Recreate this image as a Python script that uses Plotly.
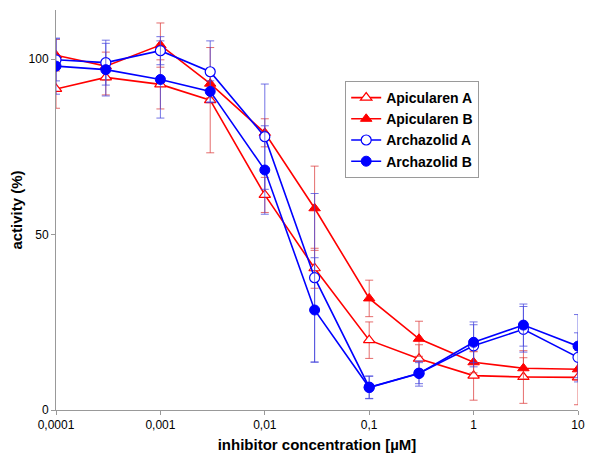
import plotly.graph_objects as go

# inhibitor concentration [uM]
conc = [0.0001, 0.0003, 0.001, 0.003, 0.01, 0.03, 0.1, 0.3, 1, 3, 10]

apic_a = [91.5, 94.8, 92.8, 88.3, 61.3, 40.4, 19.9, 14.6, 9.8, 9.4, 9.3]
apic_a_err = [5.5, 5.0, 7.0, 15.0, 5.0, 5.7, 5.2, 4.0, 7.0, 7.5, 7.8]

apic_b = [101.1, 98.0, 104.0, 93.0, 79.0, 57.5, 31.8, 20.3, 13.6, 11.9, 11.6]
apic_b_err = [4.5, 4.0, 6.3, 4.0, 4.0, 12.0, 5.2, 5.0, 3.0, 3.0, 3.0]

arch_a = [99.8, 99.0, 102.4, 96.4, 77.9, 37.7, 6.5, 10.5, 18.3, 23.0, 15.0]
arch_a_err = [6.0, 6.4, 4.0, 8.8, 15.0, 24.0, 3.2, 3.0, 6.0, 6.5, 7.0]

arch_b = [98.0, 97.0, 94.2, 90.8, 68.4, 28.5, 6.4, 10.4, 19.3, 24.2, 18.2]
arch_b_err = [8.0, 7.5, 11.0, 3.0, 12.6, 14.9, 3.2, 3.6, 5.8, 6.0, 9.0]

x_ticks = [0.0001, 0.001, 0.01, 0.1, 1, 10]
x_labels = ["0,0001", "0,001", "0,01", "0,1", "1", "10"]

RED = "#FF0000"
BLUE = "#0000FF"

# name, values, errors, colour, marker, filled?, error bar colour
series = [
    ("Apicularen A", apic_a, apic_a_err, RED, "triangle-up", False, "rgba(220,60,60,0.75)"),
    ("Apicularen B", apic_b, apic_b_err, RED, "triangle-up", True, "rgba(220,60,60,0.75)"),
    ("Archazolid A", arch_a, arch_a_err, BLUE, "circle", False, "rgba(70,70,220,0.75)"),
    ("Archazolid B", arch_b, arch_b_err, BLUE, "circle", True, "rgba(70,70,220,0.75)"),
]

fig = go.Figure()
for name, vals, errs, col, sym, filled, ecol in series:
    fig.add_trace(go.Scatter(
        x=conc, y=vals, name="<b>" + name + "</b>", mode="lines+markers",
        line=dict(color=col, width=1.6),
        marker=dict(symbol=sym, size=10, color=col if filled else "white",
                    line=dict(color=col, width=1 if filled else 1.2)),
        error_y=dict(type="data", array=errs, visible=True, color=ecol,
                     thickness=1, width=4),
    ))

# page body has an 8px margin, so the figure is a bit smaller than the window
fig.update_layout(
    width=592, height=462,
    margin=dict(l=48, r=22, t=2, b=60),
    paper_bgcolor="white", plot_bgcolor="white",
    font=dict(family="Liberation Sans, Arial, sans-serif", size=12, color="black"),
    showlegend=True,
    legend=dict(x=0.554, y=0.8225, xanchor="left", yanchor="top",
                bordercolor="#9a9a9a", borderwidth=1, bgcolor="white",
                font=dict(size=14, family="Liberation Sans, Arial, sans-serif"),
                tracegroupgap=0, itemwidth=30),
)
fig.update_xaxes(
    type="log", range=[-4, 1], tickvals=x_ticks, ticktext=x_labels,
    showgrid=False, zeroline=False, showline=True, linecolor="#999999",
    ticks="outside", ticklen=4, tickcolor="#999999", automargin=False,
    title=dict(text="<b>inhibitor concentration [µM]</b>", font=dict(size=15), standoff=8),
)
fig.update_yaxes(
    range=[0, 114], tickvals=[0, 50, 100],
    showgrid=False, zeroline=False, showline=True, linecolor="#999999",
    ticks="outside", ticklen=4, tickcolor="#999999", automargin=False,
    title=dict(text="<b>activity (%)</b>", font=dict(size=15), standoff=6),
)

fig.write_html("out.html")
